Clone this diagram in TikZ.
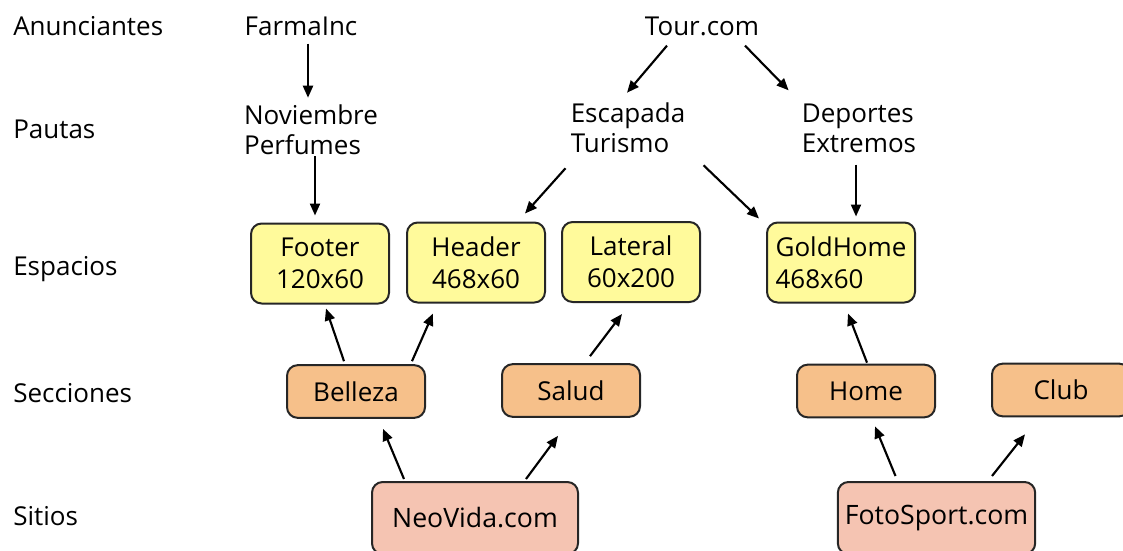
\documentclass[tikz,border=0pt]{standalone}
\usepackage{fontspec}
\setmainfont{Open Sans}
\usetikzlibrary{arrows.meta}
\definecolor{espcol}{RGB}{255,250,155}
\definecolor{seccol}{RGB}{246,192,138}
\definecolor{sitcol}{RGB}{245,196,178}
\tikzset{
    lbl/.style={inner sep=0pt, font=\fontsize{19.5}{22.5}\selectfont},
    caja/.style={draw=black!85, line width=1.5pt, rounded corners=8pt, inner sep=2pt,
      align=center, font=\fontsize{19.5}{24}\selectfont},
    esp/.style={caja, fill=espcol, minimum width=103.5pt, minimum height=60pt},
    sec/.style={caja, fill=seccol, minimum width=103.5pt, minimum height=39.5pt},
    sit/.style={caja, fill=sitcol, minimum height=54pt, font=\fontsize{20}{24}\selectfont},
    flecha/.style={-{Triangle[length=9pt,width=7.5pt]}, line width=1.6pt},
}

\begin{document}
\begin{tikzpicture}[x=0.75pt, y=-0.75pt]
    \useasboundingbox (0,0) rectangle (1123,550);
    % niveles
    \node[lbl, anchor=base west] (anun) at (13,35) {Anunciantes};
    \node[lbl, anchor=base west] (pau) at (13,138) {Pautas};
    \node[lbl, anchor=base west] (espa) at (13,275) {Espacios};
    \node[lbl, anchor=base west] (secc) at (13,402) {Secciones};
    \node[lbl, anchor=base west] (siti) at (13,525) {Sitios};
    % anunciantes y pautas
    \node[lbl, anchor=base] (farma) at (301,35) {FarmaInc};
    \node[lbl, anchor=base] (tour) at (702,35) {Tour.com};
    \node[lbl, align=left] (novi) at (311,130) {Noviembre\\Perfumes};
    \node[lbl, align=left] (esca) at (628,128) {Escapada\\Turismo};
    \node[lbl, align=left] (depo) at (859,128) {Deportes\\Extremos};
    % espacios
    \node[esp] (foot) at (320,263.5) {Footer\\120x60};
    \node[esp] (head) at (476,262.5) {Header\\468x60};
    \node[esp] (lat) at (631,262) {Lateral\\60x200};
    \node[esp, minimum width=111pt, align=left] (gold) at (841,262.5) {GoldHome\\468x60};
    % secciones
    \node[sec] (bel) at (356,391.5) {Belleza};
    \node[sec] (sal) at (571,390.5) {Salud};
    \node[sec] (home) at (866,391) {Home};
    \node[sec] (club) at (1061,390) {Club};
    % sitios
    \node[sit, minimum width=154.5pt] (neo) at (475,518) {NeoVida.com};
    \node[sit, minimum width=148pt] (foto) at (936.5,518) {FotoSport.com};

    \draw[flecha] ([shift={(7,8)}]farma.south) -- ([shift={(-3,-7)}]novi.north);
    \draw[flecha] ([shift={(4,1)}]novi.south) -- ([shift={(-5,-7)}]foot.north);
    \draw[flecha] ([shift={(-35,10)}]tour.south) -- ([shift={(-1,-10)}]esca.north);
    \draw[flecha] ([shift={(43,10)}]tour.south) -- ([shift={(-13,-13)}]depo.north west);
    \draw[flecha] ([shift={(-5,15)}]esca.south west) -- ([shift={(49,-8)}]head.north);
    \draw[flecha] ([shift={(18,12)}]esca.south east) -- ([shift={(-7,-3)}]gold.north west);
    \draw[flecha] ([shift={(-3,12)}]depo.south) -- ([shift={(15,-5)}]gold.north);
    \draw[flecha] ([shift={(-12,-3)}]bel.north) -- ([shift={(6,4)}]foot.south);
    \draw[flecha] ([shift={(-14,-3)}]bel.north east) -- ([shift={(27,10)}]head.south west);
    \draw[flecha] ([shift={(19,-7)}]sal.north) -- ([shift={(-9,11)}]lat.south);
    \draw[flecha] ([shift={(1,-1)}]home.north) -- ([shift={(7,10)}]gold.south);
    \draw[flecha] ([shift={(-71,-2)}]neo.north) -- ([shift={(27,10)}]bel.south);
    \draw[flecha] ([shift={(51,-2)}]neo.north) -- ([shift={(-13,18)}]sal.south);
    \draw[flecha] ([shift={(-41,-5)}]foto.north) -- ([shift={(9,8)}]home.south);
    \draw[flecha] ([shift={(55.5,-5)}]foto.north) -- ([shift={(-36,17)}]club.south);
\end{tikzpicture}
\end{document}
